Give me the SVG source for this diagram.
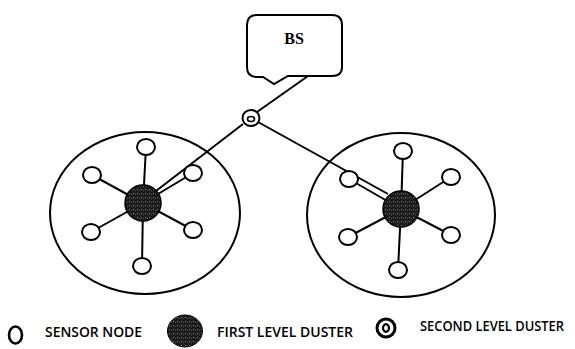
<svg xmlns="http://www.w3.org/2000/svg" width="575" height="349" viewBox="0 0 575 349">
<style>
.edge{stroke:#000;stroke-width:2;fill:none}
.sensor{fill:#fff;stroke:#000;stroke-width:2}
.head{fill:url(#speck);stroke:#000;stroke-width:1.5}
.cluster{fill:none;stroke:#000;stroke-width:2}
.lbl{font-family:"Open Sans","Liberation Sans",Arial,sans-serif;font-weight:600;font-size:14px;fill:#000}
</style>
<defs>
<pattern id="speck" width="4" height="4" patternUnits="userSpaceOnUse">
<rect width="4" height="4" fill="#1c1c1c"/>
<rect x="1" y="1" width="1" height="1" fill="#8a8a8a"/>
<rect x="3" y="2" width="1" height="1" fill="#555"/>
</pattern>
</defs>
<rect width="575" height="349" fill="#fff"/>

<g id="cluster-left-boundary"><ellipse class="cluster" cx="145" cy="213" rx="95" ry="81"/></g>
<g id="cluster-right-boundary"><ellipse class="cluster" cx="401" cy="215" rx="94" ry="82"/></g>

<g id="connectors">
<line class="edge" x1="308" y1="76" x2="257" y2="112"/>
<line class="edge" x1="243" y1="124" x2="156" y2="191"/>
<line class="edge" x1="258" y1="122" x2="388" y2="194"/>
<line class="edge" x1="143" y1="203" x2="146" y2="147"/>
<line class="edge" x1="143" y1="203" x2="92" y2="175"/>
<line class="edge" x1="143" y1="203" x2="193" y2="173"/>
<line class="edge" x1="143" y1="203" x2="91" y2="232"/>
<line class="edge" x1="143" y1="203" x2="193" y2="230"/>
<line class="edge" x1="143" y1="203" x2="142" y2="266"/>
<line class="edge" x1="401" y1="209" x2="403" y2="151"/>
<line class="edge" x1="401" y1="209" x2="349" y2="179"/>
<line class="edge" x1="401" y1="209" x2="451" y2="177"/>
<line class="edge" x1="401" y1="209" x2="348" y2="237"/>
<line class="edge" x1="401" y1="209" x2="451" y2="235"/>
<line class="edge" x1="401" y1="209" x2="398" y2="270"/>
</g>

<g id="bs">
<path d="M257,15 H332 Q342,15 342,25 V67 Q342,76 332,76 H288 L274,84 L263,77 H257 Q247,77 247,67 V25 Q247,15 257,15 Z" fill="#fff" stroke="#000" stroke-width="2"/>
<text x="294" y="44" font-family="Liberation Serif,Times New Roman,serif" font-weight="bold" font-size="16" text-anchor="middle">BS</text>
</g>

<g id="second-level-cluster"><ellipse cx="251" cy="118" rx="8.5" ry="8" fill="#fff" stroke="#000" stroke-width="2"/><ellipse cx="251" cy="119" rx="3.5" ry="2.5" fill="none" stroke="#000" stroke-width="1.6"/></g>

<g id="head-left"><circle class="head" cx="143" cy="203" r="18"/></g>
<g id="s-left-top"><ellipse class="sensor" cx="146" cy="147" rx="9" ry="8"/></g>
<g id="s-left-ul"><ellipse class="sensor" cx="92" cy="175" rx="9" ry="8"/></g>
<g id="s-left-ur"><ellipse class="sensor" cx="193" cy="173" rx="9" ry="8"/></g>
<g id="s-left-ll"><ellipse class="sensor" cx="91" cy="232" rx="9" ry="8"/></g>
<g id="s-left-lr"><ellipse class="sensor" cx="193" cy="230" rx="9" ry="8"/></g>
<g id="s-left-bot"><ellipse class="sensor" cx="142" cy="266" rx="9" ry="8"/></g>

<g id="head-right"><circle class="head" cx="401" cy="209" r="18"/></g>
<g id="s-right-top"><ellipse class="sensor" cx="403" cy="151" rx="9" ry="8"/></g>
<g id="s-right-ul"><ellipse class="sensor" cx="349" cy="179" rx="9" ry="8"/></g>
<g id="s-right-ur"><ellipse class="sensor" cx="451" cy="177" rx="9" ry="8"/></g>
<g id="s-right-ll"><ellipse class="sensor" cx="348" cy="237" rx="9" ry="8"/></g>
<g id="s-right-lr"><ellipse class="sensor" cx="451" cy="235" rx="9" ry="8"/></g>
<g id="s-right-bot"><ellipse class="sensor" cx="398" cy="270" rx="9" ry="8"/></g>

<g id="legend-sensor">
<ellipse cx="15.5" cy="335" rx="6.5" ry="8.5" fill="#fff" stroke="#000" stroke-width="2.6"/>
<text class="lbl" x="45" y="337" textLength="97" lengthAdjust="spacingAndGlyphs">SENSOR NODE</text>
</g>
<g id="legend-first">
<ellipse cx="185" cy="331" rx="17.5" ry="16" fill="url(#speck)" stroke="#000" stroke-width="1"/>
<text class="lbl" x="217" y="337" textLength="136" lengthAdjust="spacingAndGlyphs">FIRST LEVEL DUSTER</text>
</g>
<g id="legend-second">
<circle cx="386" cy="328" r="9" fill="#fff" stroke="#000" stroke-width="3"/>
<ellipse cx="386" cy="328" rx="3" ry="3.8" fill="none" stroke="#000" stroke-width="2.2"/>
<text class="lbl" x="420" y="331" textLength="144" lengthAdjust="spacingAndGlyphs">SECOND LEVEL DUSTER</text>
</g>
</svg>
